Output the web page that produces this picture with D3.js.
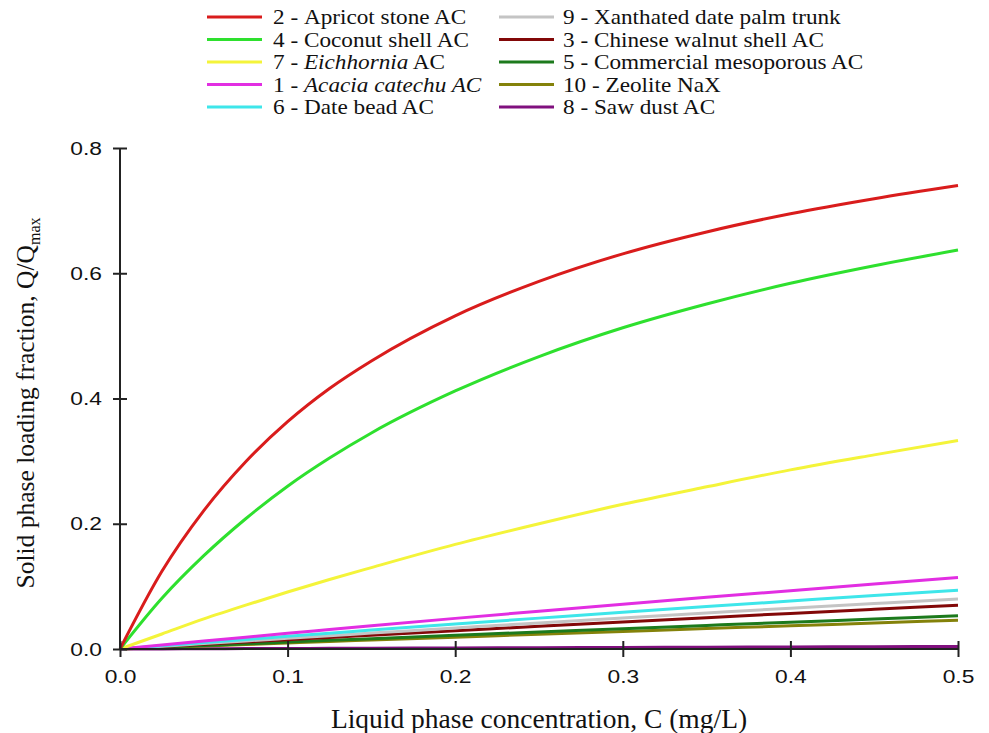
<!DOCTYPE html>
<html>
<head>
<meta charset="utf-8">
<script src="https://cdn.jsdelivr.net/npm/d3@7"></script>
<style>
  body { margin: 0; background: #fff; }
  svg { display: block; }
</style>
</head>
<body>
<svg id="chart" width="989" height="733"></svg>
<script>
// Liquid phase concentration grid (mg/L)
const concentration = [0, 0.025, 0.05, 0.075, 0.1, 0.125, 0.15, 0.2, 0.25, 0.3, 0.35, 0.4, 0.45, 0.5];

// Loading fraction Q/Qmax for each adsorbent
const apricotStone   = [0, 0.124, 0.221, 0.299, 0.363, 0.416, 0.460, 0.532, 0.587, 0.631, 0.666, 0.695, 0.719, 0.740];
const coconutShell   = [0, 0.081, 0.149, 0.208, 0.260, 0.305, 0.345, 0.412, 0.467, 0.513, 0.551, 0.584, 0.612, 0.637];
const eichhornia     = [0, 0.024, 0.048, 0.070, 0.091, 0.111, 0.130, 0.167, 0.200, 0.231, 0.259, 0.286, 0.310, 0.333];
const acaciaCatechu  = [0, 0.0064, 0.0127, 0.0189, 0.0251, 0.0311, 0.0371, 0.0489, 0.0604, 0.0716, 0.0825, 0.0932, 0.1037, 0.114];
const dateBead       = [0, 0.0052, 0.0103, 0.0153, 0.0203, 0.0253, 0.0302, 0.0399, 0.0493, 0.0586, 0.0677, 0.0766, 0.0854, 0.094];
const xanthatedPalm  = [0, 0.0043, 0.0086, 0.0129, 0.0171, 0.0213, 0.0254, 0.0336, 0.0417, 0.0496, 0.0574, 0.0651, 0.0726, 0.080];
const walnutShell    = [0, 0.0038, 0.0075, 0.0112, 0.0148, 0.0185, 0.0221, 0.0292, 0.0363, 0.0432, 0.0500, 0.0568, 0.0634, 0.070];
const mesoporous     = [0, 0.0028, 0.0056, 0.0083, 0.0111, 0.0138, 0.0165, 0.0219, 0.0272, 0.0325, 0.0377, 0.0428, 0.0479, 0.053];
const zeoliteNaX     = [0, 0.0024, 0.0048, 0.0072, 0.0095, 0.0119, 0.0143, 0.0189, 0.0235, 0.0281, 0.0326, 0.0371, 0.0415, 0.046];
const sawDust        = [0, 0.0002, 0.0004, 0.0006, 0.0008, 0.0010, 0.0012, 0.0016, 0.0020, 0.0024, 0.0028, 0.0032, 0.0036, 0.004];

const xTicks = [0, 0.1, 0.2, 0.3, 0.4, 0.5];
const yTicks = [0, 0.2, 0.4, 0.6, 0.8];

// Legend column 1 then column 2
const series = [
  { num: "2",  name: "Apricot stone AC",          italic: null,                values: apricotStone,  color: "#d91c1c", col: 0, row: 0 },
  { num: "4",  name: "Coconut shell AC",          italic: null,                values: coconutShell,  color: "#2ee02e", col: 0, row: 1 },
  { num: "7",  name: " AC",                       italic: "Eichhornia",        values: eichhornia,    color: "#f4f43a", col: 0, row: 2 },
  { num: "1",  name: "",                          italic: "Acacia catechu AC", values: acaciaCatechu, color: "#e22ee2", col: 0, row: 3 },
  { num: "6",  name: "Date bead AC",              italic: null,                values: dateBead,      color: "#3ee6ea", col: 0, row: 4 },
  { num: "9",  name: "Xanthated date palm trunk", italic: null,                values: xanthatedPalm, color: "#c4c4c4", col: 1, row: 0 },
  { num: "3",  name: "Chinese walnut shell AC",   italic: null,                values: walnutShell,   color: "#820808", col: 1, row: 1 },
  { num: "5",  name: "Commercial mesoporous AC",  italic: null,                values: mesoporous,    color: "#1c7a1c", col: 1, row: 2 },
  { num: "10", name: "Zeolite NaX",               italic: null,                values: zeoliteNaX,    color: "#84820a", col: 1, row: 3 },
  { num: "8",  name: "Saw dust AC",               italic: null,                values: sawDust,       color: "#80107e", col: 1, row: 4 }
];

const svg = d3.select("#chart");
const plot = { left: 120, right: 958, top: 148, bottom: 649 };

const x = d3.scaleLinear().domain([0, 0.5]).range([plot.left, plot.right]);
const y = d3.scaleLinear().domain([0, 0.8]).range([plot.bottom, plot.top]);

const line = d3.line()
  .x((d, i) => x(concentration[i]))
  .y(d => y(d))
  .curve(d3.curveMonotoneX);

// Curves, drawn from lowest to highest so the upper ones sit on top
const drawOrder = [...series].reverse();
svg.append("g")
  .selectAll("path")
  .data(drawOrder)
  .join("path")
  .attr("d", d => line(d.values))
  .attr("fill", "none")
  .attr("stroke", d => d.color)
  .attr("stroke-width", 3)
  .attr("stroke-linejoin", "round");

// Axes with ticks crossing the axis line; tick labels slightly widened
const tickFont = "'Liberation Sans', Arial, sans-serif";
const tickStretch = 1.2;

const yAxis = svg.append("g")
  .attr("transform", `translate(${plot.left},0)`)
  .call(d3.axisLeft(y).tickValues(yTicks).tickFormat(d3.format(".1f")).tickSize(7));
yAxis.selectAll(".tick line").attr("x1", 7).attr("x2", -7);
yAxis.selectAll(".tick text")
  .attr("x", -18 / tickStretch)
  .attr("transform", `scale(${tickStretch},1)`);

const xAxis = svg.append("g")
  .attr("transform", `translate(0,${plot.bottom})`)
  .call(d3.axisBottom(x).tickValues(xTicks).tickFormat(d3.format(".1f")).tickSize(8).tickPadding(12.5));
xAxis.selectAll(".tick line").attr("y1", -8).attr("y2", 8);
xAxis.selectAll(".tick text").attr("transform", `scale(${tickStretch},1)`);

[yAxis, xAxis].forEach(a => {
  a.select(".domain").attr("stroke", "#222").attr("stroke-width", 2);
  a.selectAll(".tick line").attr("stroke", "#222").attr("stroke-width", 2);
  a.selectAll(".tick text")
    .attr("fill", "#111")
    .style("font-family", tickFont)
    .style("font-size", "19px");
});
xAxis.select(".domain").attr("d", `M${plot.left},0H${plot.right}`);
yAxis.select(".domain").attr("d", `M0,${plot.top}V${plot.bottom}`);

// Axis titles
const serif = "'Liberation Serif', 'Times New Roman', serif";

svg.append("text")
  .attr("x", (plot.left + plot.right) / 2)
  .attr("y", 728)
  .attr("text-anchor", "middle")
  .style("font-family", serif)
  .style("font-size", "27.5px")
  .attr("fill", "#111")
  .text("Liquid phase concentration, C (mg/L)");

const yTitle = svg.append("text")
  .attr("transform", `translate(34,403) rotate(-90)`)
  .attr("text-anchor", "middle")
  .style("font-family", serif)
  .style("font-size", "25.5px")
  .attr("fill", "#111");
yTitle.append("tspan").text("Solid phase loading fraction, Q/Q");
yTitle.append("tspan").attr("dy", 6).style("font-size", "16px").text("max");

// Legend
const legendCols = [{ lx: 207, tx: 273 }, { lx: 499, tx: 563 }];
const legendTop = 17, legendStep = 22.5, legendLine = 55, legendStretch = 1.08;

const legend = svg.append("g")
  .style("font-family", serif)
  .style("font-size", "21.5px");

series.forEach(s => {
  const c = legendCols[s.col];
  const yy = legendTop + s.row * legendStep;
  legend.append("line")
    .attr("x1", c.lx).attr("x2", c.lx + legendLine)
    .attr("y1", yy).attr("y2", yy)
    .attr("stroke", s.color)
    .attr("stroke-width", 3);
  const t = legend.append("text")
    .attr("transform", `translate(${c.tx},${yy + 7}) scale(${legendStretch},1)`)
    .attr("fill", "#111");
  t.append("tspan").text(s.num + " - ");
  if (s.italic) t.append("tspan").style("font-style", "italic").text(s.italic);
  if (s.name) t.append("tspan").text(s.name);
});
</script>
</body>
</html>
